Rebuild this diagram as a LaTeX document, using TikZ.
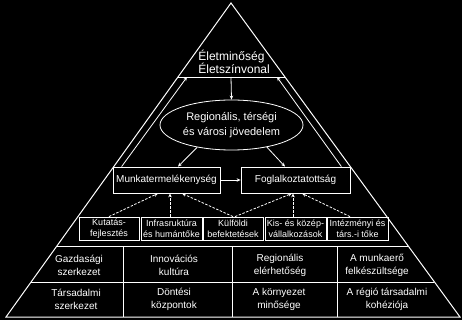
\documentclass[tikz,border=0pt]{standalone}
\usepackage{fontspec}
\setmainfont{Liberation Sans}
\usetikzlibrary{shapes.geometric,arrows.meta,calc}
\begin{document}
\begin{tikzpicture}[x=1pt,y=-1pt,line width=0.8pt,color=white,
  box/.style={draw,minimum height=26pt,inner sep=0pt,font=\fontsize{10}{13}\selectfont},
  sbox/.style={draw,minimum height=23pt,inner sep=0.3pt,align=center,font=\fontsize{9}{11}\selectfont},
  cell/.style={align=center,inner sep=0pt,font=\fontsize{10}{13}\selectfont},
  arr/.style={-{Stealth[length=4pt,width=3.5pt]}},
  darr/.style={arr,dash pattern=on 2.5pt off 1.5pt}]
\fill[black] (0,0) rectangle (462,320);
\useasboundingbox (0,0) rectangle (462,320);
% triangle
\coordinate (A) at (231,3);
\coordinate (B) at (6,317);
\coordinate (C) at (460,317);
\draw[line width=1pt] (A) -- (B) -- (C) -- cycle;
% horizontal lines
\coordinate (l1L) at ($(A)!0.2357!(B)$);
\coordinate (l1R) at ($(A)!0.2357!(C)$);
\coordinate (l2L) at ($(A)!0.7739!(B)$);
\coordinate (l2R) at ($(A)!0.7739!(C)$);
\coordinate (l3L) at ($(A)!0.8885!(B)$);
\coordinate (l3R) at ($(A)!0.8885!(C)$);
\draw (l1L) -- (l1R);
\draw (l2L) -- (l2R);
\draw (l3L) -- (l3R);
% vertical grid lines
\draw (123,246) -- (123,317);
\draw (232,246) -- (232,317);
\draw (337,246) -- (337,317);
% title
\node[anchor=west,align=left,inner sep=0pt,font=\fontsize{12}{13}\selectfont] (title) at (198,61.5) {Életminőség\\Életszínvonal};
\coordinate (tl) at (187,77);
\coordinate (tm) at (231,77);
\coordinate (tr) at (277,77);
% ellipse
\node[ellipse,draw,minimum width=143pt,minimum height=50pt,inner sep=0pt,align=center,font=\fontsize{11}{15}\selectfont] (ell) at (231.5,125) {Regionális, térségi\\és városi jövedelem};
% boxes
\node[box,minimum width=107pt] (munka) at (166.5,180) {Munkatermelékenység};
\node[box,minimum width=109pt] (fogl) at (295.5,180) {Foglalkoztatottság};
% small boxes
\node[sbox,minimum width=60pt] (kut) at (109,228.5) {Kutatás-\\fejlesztés};
\node[sbox,minimum width=61pt] (infra) at (171.5,228.5) {Infrasruktúra\\és humántőke};
\node[sbox,minimum width=60pt] (kulf) at (233,228.5) {Külföldi\\befektetések};
\node[sbox,minimum width=61pt] (kis) at (295.5,228.5) {Kis- és közép-\\vállalkozások};
\node[sbox,minimum width=61pt] (int) at (357.5,228.5) {Intézményi és\\társ.-i tőke};
% grid cells
\node[cell] (gaz) at (79,265.5) {Gazdasági\\szerkezet};
\node[cell] (inn) at (174,265.5) {Innovációs\\kultúra};
\node[cell] (reg) at (280,265.5) {Regionális\\elérhetőség};
\node[cell] (mun) at (377,265.5) {A munkaerő\\felkészültsége};
\node[cell] (tar) at (76,299) {Társadalmi\\szerkezet};
\node[cell] (don) at (174,299) {Döntési\\központok};
\node[cell] (kor) at (279,299) {A környezet\\minősége};
\node[cell] (koh) at (387,299) {A régió társadalmi\\kohéziója};
% connectors
\draw[arr] ([xshift=9pt]munka.north west) -- (tl);
\draw[arr] ([xshift=-9pt]fogl.north east) -- (tr);
\draw[arr] (tm) -- (ell.north);
\draw[arr] (ell.213.7) -- ([xshift=11.5pt]munka.north);
\draw[arr] (ell.328) -- ([xshift=-10.5pt]fogl.north);
\draw[arr] (munka.east) -- (fogl.west);
\draw[darr] (kut.north) -- ([xshift=-8.5pt]munka.south);
\draw[darr] ([xshift=-1.5pt]infra.north) -- ([xshift=3.5pt]munka.south);
\draw[darr] (kulf.north) -- ([xshift=15.5pt]munka.south);
\draw[darr] ([xshift=2pt]kulf.north) -- ([xshift=-3.5pt]fogl.south);
\draw[darr] ([xshift=-2.5pt]kis.north) -- ([xshift=-2.5pt]fogl.south);
\draw[darr] ([xshift=-7.5pt]int.north) -- ([xshift=6.5pt]fogl.south);
\end{tikzpicture}
\end{document}
